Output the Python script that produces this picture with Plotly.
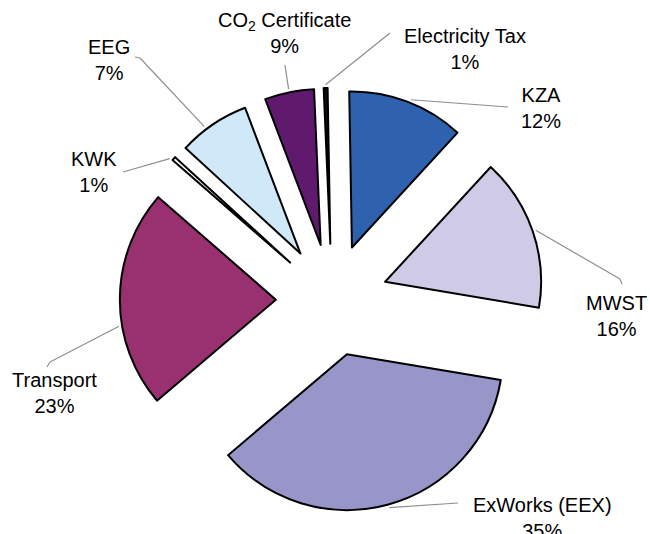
import math
import plotly.graph_objects as go

# ---- data ----
categories = ["KZA", "MWST", "ExWorks (EEX)", "Transport", "KWK", "EEG",
              "CO<sub>2</sub> Certificate", "Electricity Tax"]
# slice sizes as drawn (share of circle, %)
slice_values = [12.1, 15.8, 36.1, 22.6, 0.4, 7.4, 5.1, 0.4]
# percentages printed on the labels
label_pct = ["12%", "16%", "35%", "23%", "1%", "7%", "9%", "1%"]

# ---- styles ----
colors = ["#2f62ae", "#cfcbe6", "#9896c9", "#99306f", "#ffffff",
          "#cfe9f8", "#5f1a6d", "#111111"]
W, H = 650, 534
CX, CY, R = 332.0, 300.0, 156.0      # pie centre / radius in px
PULL = 0.36
ROTATION = -1.0
# leader-line arc angle offsets (deg), elbow points and label centres (px)
leader_offset = [1, 0, 0, -10, -1, -3, 0, 0]
leader_end = [[(508, 107)], [(620, 279), (622, 284)], [(458, 503)],
              [(50, 362), (47, 367)], [(123, 172)], [(140, 58), (135, 57)],
              [(285, 65)], [(390, 33)]]
label_pos = [(541, 108), (616, 316), (542, 518), (54, 393), (94, 172),
             (109, 60), (284, 33), (465, 49)]

half = R * (1 + PULL)
dom_x = [(CX - half) / W, (CX + half) / W]
dom_y = [1 - (CY + half) / H, 1 - (CY - half) / H]

fig = go.Figure(go.Pie(
    labels=categories, values=slice_values, sort=False, direction="clockwise",
    rotation=ROTATION, pull=[PULL] * len(slice_values),
    marker=dict(colors=colors, line=dict(color="#000000", width=2)),
    textinfo="none", hoverinfo="label+percent", showlegend=False,
    domain=dict(x=dom_x, y=dom_y)))


def px2paper(x, y):
    return x / W, 1 - y / H


def d(a):
    t = math.radians(a)
    return math.sin(t), -math.cos(t)


total = sum(slice_values)
cum = 0.0
shapes, annots = [], []
for i, v in enumerate(slice_values):
    a0 = ROTATION + 360 * cum / total
    cum += v
    a1 = ROTATION + 360 * cum / total
    mid = (a0 + a1) / 2
    ux, uy = d(mid)
    ax, ay = CX + PULL * R * ux, CY + PULL * R * uy
    sx, sy = d(mid + leader_offset[i])
    pts = [(ax + 1.02 * R * sx, ay + 1.02 * R * sy)] + leader_end[i]
    for (x0, y0), (x1, y1) in zip(pts[:-1], pts[1:]):
        p0, p1 = px2paper(x0, y0), px2paper(x1, y1)
        shapes.append(dict(type="line", xref="paper", yref="paper",
                           x0=p0[0], y0=p0[1], x1=p1[0], y1=p1[1],
                           line=dict(color="#8e8e8e", width=1.2)))
    lx, ly = px2paper(*label_pos[i])
    annots.append(dict(xref="paper", yref="paper", x=lx, y=ly,
                       text=f"{categories[i]}<br>{label_pct[i]}",
                       showarrow=False, xanchor="center", yanchor="middle",
                       align="center",
                       font=dict(family="Liberation Sans, Arial, sans-serif",
                                 size=20, color="#000000")))

fig.update_layout(width=W, height=H, margin=dict(l=0, r=0, t=0, b=0),
                  paper_bgcolor="white", plot_bgcolor="white",
                  shapes=shapes, annotations=annots)
fig.write_html("out.html", config={"displayModeBar": False},
               post_script="document.body.style.margin='0';"
                           "document.body.style.overflow='hidden';")
